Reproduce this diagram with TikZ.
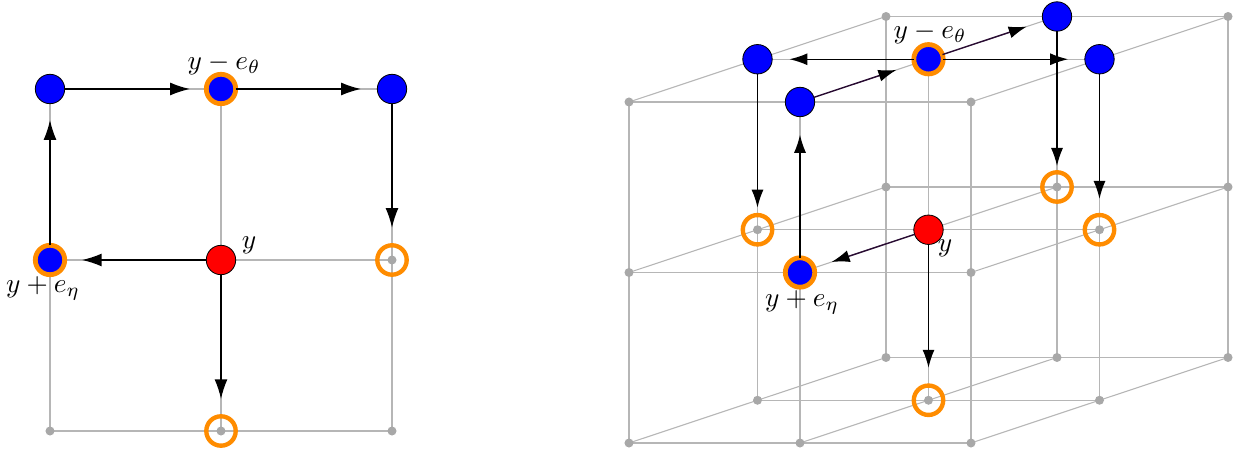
\documentclass[tikz,border=0pt]{standalone}
\usetikzlibrary{arrows.meta}
\definecolor{gridgray}{RGB}{182,182,182}
\definecolor{dotgray}{RGB}{168,168,168}
\definecolor{myorange}{RGB}{255,140,0}
\definecolor{darkline}{RGB}{40,10,50}
\tikzset{
  gridline/.style={draw=gridgray, line width=0.4pt},
  dot/.style={circle, fill=dotgray, inner sep=0pt, minimum size=3.3pt},
  bluenode/.style={circle, fill=blue, draw=black, line width=0.3pt, inner sep=0pt, outer sep=0pt, minimum size=10.76pt},
  rednode/.style={bluenode, fill=red},
  ringblue/.style={circle, fill=blue, draw=myorange, line width=1.75pt, inner sep=0pt, outer sep=0pt, minimum size=10.76pt},
  ring/.style={circle, draw=myorange, line width=1.6pt, inner sep=0pt, outer sep=0pt, minimum size=10.76pt},
  arr/.style={-{Latex[length=7.2pt,width=4.7pt]}, line width=0.5pt, draw=black},
  arrR/.style={-{Latex[length=6.6pt,width=4.4pt]}, line width=0.5pt, draw=black},
  arrD/.style={-{Latex[length=6.6pt,width=4.4pt,color=black]}, line width=0.5pt, draw=darkline},
  lbl/.style={inner sep=0pt}
}
\begin{document}
\begin{tikzpicture}[x=0.366pt,y=-0.366pt]
\useasboundingbox (0,0) rectangle (1233,452);
% ---------- left grid ----------
\foreach \i in {0,1,2} {
  \foreach \j in {0,1,2} {
    \coordinate (L\i\j) at ({50+171*\i},{89+171*\j});
  }
}
\foreach \j in {0,1,2} { \draw[gridline] (L0\j) -- (L2\j); }
\foreach \i in {0,1,2} { \draw[gridline] (L\i0) -- (L\i2); }
\foreach \i in {0,1,2} {
  \foreach \j in {0,1,2} {
    \node[dot] (dL\i\j) at (L\i\j) {};
  }
}
% ---------- right grid ----------
\foreach \i in {0,1,2} {
  \foreach \j in {0,1,2} {
    \foreach \k in {0,1,2} {
      \coordinate (R\i\j\k) at ({629+171*\i+128.5*\k},{102+170.5*\j-42.75*\k});
    }
  }
}
\foreach \j in {0,1,2} { \foreach \k in {0,1,2} { \draw[gridline] (R0\j\k) -- (R2\j\k); } }
\foreach \i in {0,1,2} { \foreach \k in {0,1,2} { \draw[gridline] (R\i0\k) -- (R\i2\k); } }
\foreach \i in {0,1,2} { \foreach \j in {0,1,2} { \draw[gridline] (R\i\j0) -- (R\i\j2); } }
\foreach \i in {0,1,2} {
  \foreach \j in {0,1,2} {
    \foreach \k in {0,1,2} {
      \node[dot] (dR\i\j\k) at (R\i\j\k) {};
    }
  }
}
% ---------- left nodes ----------
\node[bluenode] (a1) at (L00) {};
\node[ringblue] (a2) at (L10) {};
\node[bluenode] (a3) at (L20) {};
\node[ringblue] (a4) at (L01) {};
\node[rednode]  (a5) at (L11) {};
\node[ring]     (a6) at (L21) {};
\node[ring]     (a7) at (L12) {};
\draw[arr, shorten >=6.0pt] (a1) -- (a2);
\draw[arr, shorten >=6.0pt] (a2) -- (a3);
\draw[arr, shorten >=6.4pt] (a3) -- (a6);
\draw[arr, shorten >=6.3pt] (a5) -- (a4);
\draw[arr, shorten >=6.0pt] (a4) -- (a1);
\draw[arr, shorten >=6.3pt] (a5) -- (a7);
\node[lbl] (t1) at (224,64) {$y-e_\theta$};
\node[lbl] (t2) at (249,245) {$y$};
\node[lbl] (t3) at (43,288) {$y+e_\eta$};
% ---------- right nodes ----------
\node[bluenode] (b1)  at (R001) {};
\node[bluenode] (b2)  at (R100) {};
\node[ringblue] (b3)  at (R101) {};
\node[bluenode] (b4)  at (R102) {};
\node[bluenode] (b5)  at (R201) {};
\node[ring]     (b6)  at (R011) {};
\node[rednode]  (b7)  at (R111) {};
\node[ring]     (b8)  at (R211) {};
\node[ringblue] (b9)  at (R110) {};
\node[ring]     (b10) at (R112) {};
\node[ring]     (b11) at (R121) {};
\draw[arrR, shorten >=6.3pt] (b3) -- (b1);
\draw[arrR, shorten >=6.1pt] (b3) -- (b5);
\draw[arrD, shorten >=6.3pt] (b3) -- (b4);
\draw[arrD, shorten >=7.0pt] (b2) -- (b3);
\draw[arrD, shorten >=6.8pt] (b7) -- (b9);
\draw[arrR, shorten >=2.7pt] (b1) -- (b6);
\draw[arrR, shorten >=2.3pt] (b4) -- (b10);
\draw[arrR, shorten >=5.9pt] (b5) -- (b8);
\draw[arrR, shorten >=6.6pt] (b9) -- (b2);
\draw[arrR, shorten >=6.5pt] (b7) -- (b11);
\node[lbl] (t4) at (930,33) {$y-e_\theta$};
\node[lbl] (t5) at (945,248) {$y$};
\node[lbl] (t6) at (802,302) {$y+e_\eta$};
\end{tikzpicture}
\end{document}
